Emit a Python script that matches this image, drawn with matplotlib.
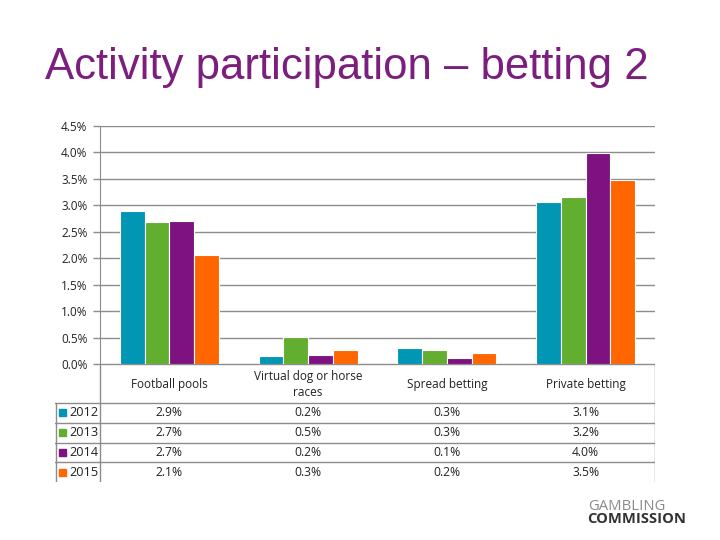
import matplotlib
matplotlib.use("Agg")
import matplotlib.pyplot as plt
import numpy as np

categories = ["Football pools", "Virtual dog or horse\nraces", "Spread betting", "Private betting"]
years = ["2012", "2013", "2014", "2015"]
values_2012 = [2.89, 0.16, 0.31, 3.06]
values_2013 = [2.68, 0.51, 0.26, 3.16]
values_2014 = [2.70, 0.17, 0.11, 3.99]
values_2015 = [2.07, 0.27, 0.21, 3.48]
series = [values_2012, values_2013, values_2014, values_2015]
colors = ["#0096B4", "#62AE2F", "#7D1280", "#FF6600"]
yticks = [0.0, 0.5, 1.0, 1.5, 2.0, 2.5, 3.0, 3.5, 4.0, 4.5]

W, H = 720, 540
fig = plt.figure(figsize=(7.2, 5.4), dpi=100)
fig.patch.set_facecolor("white")

def fx(px):
    return px / W

def fy(py):
    return 1 - py / H

grid_c = "#8C8C8C"
tick_font = "Open Sans"

fig.text(fx(45), fy(68), "Activity participation \u2013 betting 2", color="#7B1E7E",
         fontsize=31.5, family="Liberation Sans", va="center", ha="left")

# Plot area
left, right, top, bottom = 100, 655, 126, 364
ax = fig.add_axes([fx(left), fy(bottom), fx(right - left), (bottom - top) / H])
n = len(categories)
x = np.arange(n)
bw = 0.178
for i, (vals, c) in enumerate(zip(series, colors)):
    ax.bar(x + (i - 1.5) * bw, vals, width=bw, color=c, edgecolor="white", linewidth=0.8, zorder=3)
ax.set_xlim(-0.5, n - 0.5)
ax.set_ylim(0, 4.5)
ax.set_yticks(yticks)
ax.set_yticklabels([f"{t:.1f}%" for t in yticks], fontsize=8.5, family=tick_font, color="#222222")
ax.yaxis.grid(True, color=grid_c, linewidth=1.0, zorder=0)
ax.set_xticks([])
for s in ["top", "right", "bottom"]:
    ax.spines[s].set_visible(False)
ax.spines["left"].set_color(grid_c)
ax.tick_params(axis="y", length=5, color=grid_c, width=1.0, pad=4)

# Table
tl, tr, ttop, tbot = 55, 655, 364, 482
tax = fig.add_axes([fx(tl), fy(tbot), fx(tr - tl), (tbot - ttop) / H])
tax.set_xlim(tl, tr)
tax.set_ylim(tbot, ttop)
tax.axis("off")
lw = 1.0
header_bot = 403
row_lines = [403, 423, 443, 462]
row_h = (tbot - header_bot) / 4
tax.plot([left, right], [ttop, ttop], color=grid_c, lw=lw)
tax.plot([left, left], [ttop, tbot], color=grid_c, lw=lw)
tax.plot([right, right], [ttop, tbot], color=grid_c, lw=lw)
tax.plot([tl + 0.5, tl + 0.5], [header_bot, tbot], color=grid_c, lw=lw)
for y in row_lines:
    tax.plot([tl, right], [y, y], color=grid_c, lw=lw)

col_w = (right - left) / n
for j, cat in enumerate(categories):
    cx = left + col_w * (j + 0.5)
    tax.text(cx, (ttop + header_bot) / 2 + 1, cat, ha="center", va="center",
             fontsize=8.5, family=tick_font, color="#222222", linespacing=1.25)

for i, (yr, vals, c) in enumerate(zip(years, series, colors)):
    cy = header_bot + row_h * (i + 0.5)
    tax.add_patch(plt.Rectangle((59, cy - 3.5), 7, 7, color=c))
    tax.text(69, cy, yr, ha="left", va="center", fontsize=9.2, family=tick_font, color="#222222")
    for j, v in enumerate(vals):
        cx = left + col_w * (j + 0.5)
        tax.text(cx, cy, f"{v:.1f}%", ha="center", va="center", fontsize=8.7,
                 family=tick_font, color="#222222")

# Logo text
fig.text(fx(588), fy(506), "GAMBLING", fontsize=10.7, family="Open Sans", color="#8A8A8A",
         ha="left", va="center")
fig.text(fx(587), fy(519), "COMMISSION", fontsize=10.6, family="Open Sans", color="#333333",
         ha="left", va="center", fontweight="bold")

fig.savefig("out.png", dpi=100)
